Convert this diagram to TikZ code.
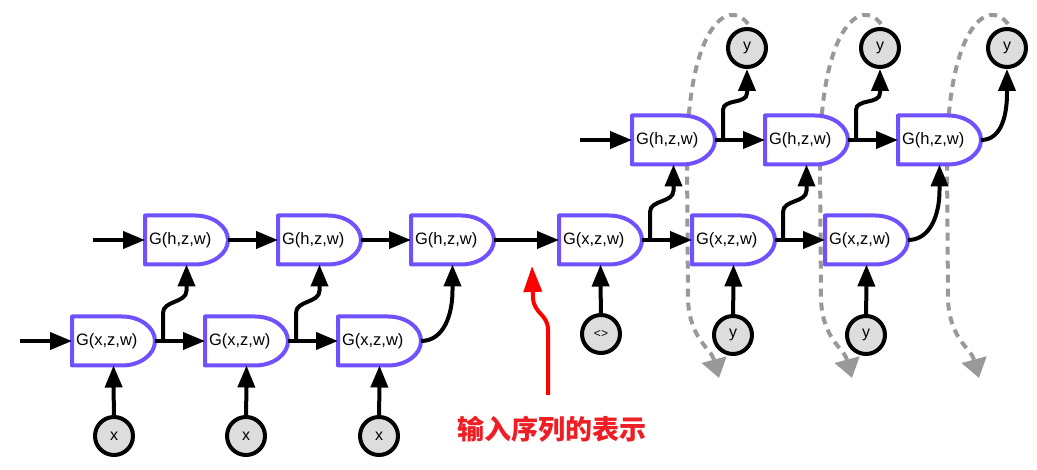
\documentclass[tikz,border=0pt]{standalone}
\usepackage{fontspec}
\setmainfont{Liberation Sans}
\newfontfamily\cjk{Noto Sans CJK SC}
\usetikzlibrary{arrows.meta}
\definecolor{gatec}{HTML}{7050FF}
\definecolor{circfill}{HTML}{DDDDDD}
\definecolor{loopc}{HTML}{999999}
\definecolor{labred}{HTML}{EE1E24}
\tikzset{
  gate/.style={inner xsep=4pt, inner ysep=0pt, outer sep=0pt, text width=75pt, align=left,
    minimum height=49pt, font=\fontsize{16.5}{18}\selectfont},
  gateline/.style={draw=gatec, fill=white, line width=4pt, line join=round},
  circ/.style={circle, draw=black, fill=circfill, line width=4pt, minimum size=38pt, inner sep=0pt,
    font=\fontsize{16}{17}\selectfont},
  arr/.style={line width=4pt, draw=black, -{Triangle[length=22pt,width=17pt]}},
  loopline/.style={line width=4pt, draw=loopc, dash pattern=on 8pt off 6pt,
    -{Triangle[length=19pt,width=25pt,fill=loopc]}},
  redarr/.style={line width=4pt, draw=red, -{Triangle[length=26pt,width=18pt,fill=red]}},
}
\begin{document}
\begin{tikzpicture}[x=1pt,y=-1pt]
\useasboundingbox (0,0) rectangle (1037,470);

% dashed loops (behind)
\foreach \cx/\nm in {747/la,880/lb,1007/lc}{
  \coordinate (\nm s) at (\cx+1,24);
  \coordinate (\nm e) at (\cx-28,378);
  \draw[loopline] (\nm s) .. controls (\cx-20,-4) and (\cx-60,30) .. (\cx-60,160)
     -- (\cx-59,300) .. controls (\cx-57,340) and (\cx-36,348) .. (\nm e);
}

% gate nodes
\foreach \n/\x/\y/\t in {b1/113.5/341/x, b2/246.5/341/x, b3/379.5/341/x,
    m1/186.5/240/h, m2/319.5/240/h, m3/452.5/240/h,
    x1/600.5/240/x, x2/733.5/240/x, x3/866.5/240/x,
    t1/673.5/140/h, t2/806.5/140/h, t3/939.5/140/h}{
  \node[gate] (\n) at (\x,\y) {};
  \draw[gateline] (\n.south west) -- (\n.north west) -- ([xshift=50pt]\n.north west)
     arc[start angle=90, end angle=-90, x radius=33pt, y radius=24.5pt] -- cycle;
  \node[gate] at (\n) {G(\t,z,w)};
}

% circles
\node[circ] (c1) at (114,436) {x};
\node[circ] (c2) at (246,436) {x};
\node[circ] (c3) at (379,436) {x};
\node[circ, font=\fontsize{12}{13}\selectfont] (cz) at (601,334) {<>};
\node[circ] (cy1) at (733,335) {y};
\node[circ] (cy2) at (866,335) {y};
\node[circ] (cy3) at (747,48) {y};
\node[circ] (cy4) at (880,48) {y};
\node[circ] (cy5) at (1007,48) {y};

% input coordinates
\coordinate (inb) at (20,341);
\coordinate (inm) at (93,240);
\coordinate (int) at (580,140);

% bottom row
\draw[arr] (inb) -- (b1.west);
\draw[arr] (b1.east) -- (b2.west);
\draw[arr] (b2.east) -- (b3.west);
\draw[arr] (c1) -- (b1.south);
\draw[arr] (c2) -- (b2.south);
\draw[arr] (c3) -- (b3.south);
\draw[arr] ([xshift=8pt]b1.east) -- ++(0,-28) to[out=90,in=-90] ([yshift=-26pt]m1.south) -- (m1.south);
\draw[arr] ([xshift=8pt]b2.east) -- ++(0,-28) to[out=90,in=-90] ([yshift=-26pt]m2.south) -- (m2.south);
\draw[arr] (b3.east) to[out=0,in=-90] ([yshift=-26pt]m3.south) -- (m3.south);

% middle row
\draw[arr] (inm) -- (m1.west);
\draw[arr] (m1.east) -- (m2.west);
\draw[arr] (m2.east) -- (m3.west);
\draw[arr] (m3.east) -- (x1.west);
\draw[arr] (x1.east) -- (x2.west);
\draw[arr] (x2.east) -- (x3.west);
\draw[arr] (cz) -- (x1.south);
\draw[arr] (cy1) -- (x2.south);
\draw[arr] (cy2) -- (x3.south);
\draw[arr] ([xshift=8pt]x1.east) -- ++(0,-28) to[out=90,in=-90] ([yshift=-26pt]t1.south) -- (t1.south);
\draw[arr] ([xshift=8pt]x2.east) -- ++(0,-28) to[out=90,in=-90] ([yshift=-26pt]t2.south) -- (t2.south);
\draw[arr] (x3.east) to[out=0,in=-90] ([yshift=-26pt]t3.south) -- (t3.south);

% top row
\draw[arr] (int) -- (t1.west);
\draw[arr] (t1.east) -- (t2.west);
\draw[arr] (t2.east) -- (t3.west);
\draw[arr] ([xshift=8pt]t1.east) -- ++(0,-30) to[out=90,in=-90] ([yshift=-24pt]cy3.south) -- (cy3.south);
\draw[arr] ([xshift=8pt]t2.east) -- ++(0,-30) to[out=90,in=-90] ([yshift=-24pt]cy4.south) -- (cy4.south);
\draw[arr] (t3.east) to[out=0,in=-90] ([yshift=-24pt]cy5.south) -- (cy5.south);

% red annotation
\coordinate (r0) at (548,395);
\coordinate (rt) at (532,266);
\draw[redarr] (r0) -- (548,330) .. controls (548,314) and (534,314) .. (533,298) -- (rt);
\node[font=\cjk\bfseries\fontsize{27}{29}\selectfont, text=labred] (lab) at (552,429) {输入序列的表示};
\end{tikzpicture}
\end{document}
